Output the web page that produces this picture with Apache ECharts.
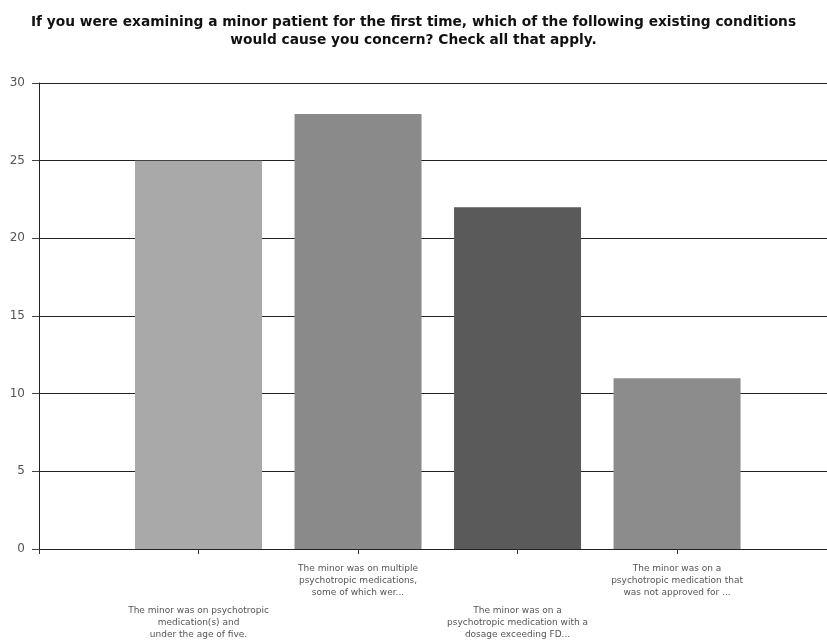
<!DOCTYPE html>
<html><head><meta charset="utf-8">
<script src="https://cdn.jsdelivr.net/npm/echarts@6/dist/echarts.min.js"></script>
<style>html,body{margin:0;padding:0;background:#fff}#c{width:827px;height:640px}</style>
</head><body><div id="c"></div>
<script>
const titleText = "If you were examining a minor patient for the first time, which of the following existing conditions\nwould cause you concern? Check all that apply.";
const categories = [
  "The minor was on psychotropic\nmedication(s) and\nunder the age of five.",
  "The minor was on multiple\npsychotropic medications,\nsome of which wer...",
  "The minor was on a\npsychotropic medication with a\ndosage exceeding FD...",
  "The minor was on a\npsychotropic medication that\nwas not approved for ..."
];
const values = [25, 28, 22, 11];
const barColors = ["#a9a9a9", "#8a8a8a", "#5a5a5a", "#8c8c8c"];
const yTicks = [0, 5, 10, 15, 20, 25, 30];

const chart = echarts.init(document.getElementById('c'));
chart.setOption({
  animation: false,
  title: {
    text: titleText, left: 'center', top: 8,
    textStyle: {fontFamily: 'DejaVu Sans', fontSize: 13.75, fontWeight: 'bold', color: '#111', lineHeight: 18}
  },
  grid: {left: 39, right: 0, top: 83, bottom: 91, containLabel: false, outerBoundsMode: 'none'},
  xAxis: {
    type: 'value', min: 0, max: 4.94,
    interval: 1,
    axisLine: {show: true, lineStyle: {color: '#222', width: 1}},
    axisTick: {show: true, length: 5, lineStyle: {color: '#333'}},
    splitLine: {show: false},
    axisLabel: {
      show: true, margin: 14, fontSize: 9, lineHeight: 12, color: '#555',
      fontFamily: 'DejaVu Sans', showMaxLabel: false,
      rich: {g: {fontSize: 9, lineHeight: 10.5}},
      formatter: function (v) {
        const i = Math.round(v) - 1;
        if (i < 0 || i >= categories.length) return '';
        return (i % 2 === 0 ? '{g| }\n{g| }\n{g| }\n{g| }\n' : '') + categories[i];
      }
    }
  },
  yAxis: {
    type: 'value', min: yTicks[0], max: yTicks[yTicks.length - 1], interval: 5,
    axisLine: {show: true, lineStyle: {color: '#222', width: 1}},
    axisTick: {show: true, length: 7, lineStyle: {color: '#444'}},
    splitLine: {show: true, lineStyle: {color: '#222', width: 1}},
    axisLabel: {fontSize: 12, color: '#555', margin: 14, fontFamily: 'DejaVu Sans'}
  },
  series: [{
    type: 'bar', barWidth: 127,
    data: values.map((v, i) => ({value: [i + 1, v], itemStyle: {color: barColors[i]}}))
  }]
});
</script></body></html>
